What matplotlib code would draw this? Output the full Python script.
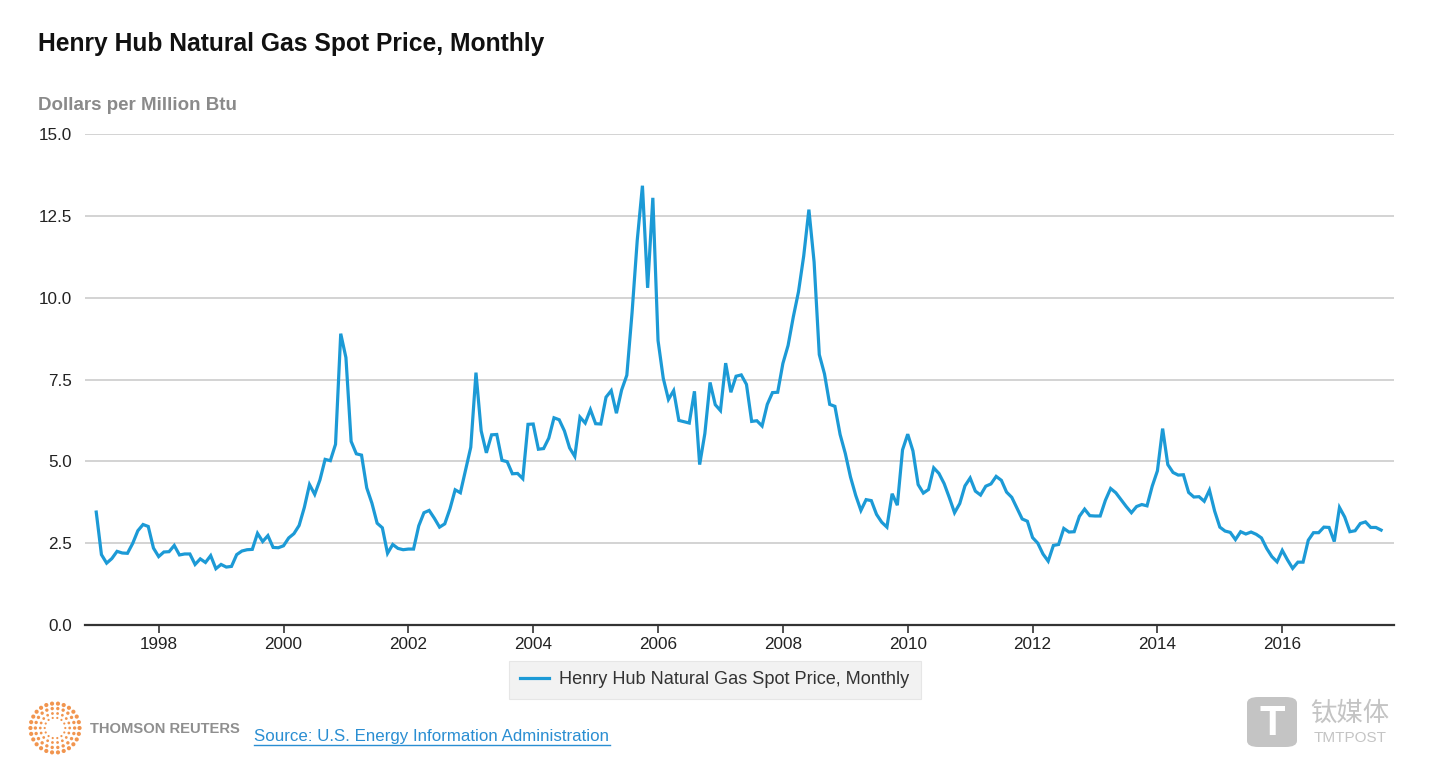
import numpy as np
import matplotlib
matplotlib.use("Agg")
import matplotlib.pyplot as plt
from matplotlib.patches import FancyBboxPatch

plt.rcParams['font.family'] = ['Liberation Sans', 'DejaVu Sans']

start_year = 1997
prices = [
    # 1997
    3.45, 2.15, 1.89, 2.03, 2.25, 2.20, 2.19, 2.49, 2.88, 3.07, 3.01, 2.35,
    # 1998
    2.09, 2.23, 2.24, 2.43, 2.14, 2.17, 2.17, 1.85, 2.02, 1.91, 2.12, 1.72,
    # 1999
    1.85, 1.77, 1.79, 2.15, 2.26, 2.30, 2.31, 2.80, 2.55, 2.73, 2.37, 2.36,
    # 2000
    2.42, 2.66, 2.79, 3.04, 3.59, 4.29, 3.99, 4.43, 5.06, 5.02, 5.52, 8.90,
    # 2001
    8.17, 5.61, 5.23, 5.19, 4.19, 3.72, 3.11, 2.97, 2.19, 2.46, 2.34, 2.30,
    # 2002
    2.32, 2.32, 3.03, 3.43, 3.50, 3.26, 2.99, 3.09, 3.55, 4.13, 4.04, 4.74,
    # 2003
    5.43, 7.71, 5.93, 5.26, 5.81, 5.82, 5.03, 4.99, 4.62, 4.63, 4.47, 6.13,
    # 2004
    6.14, 5.37, 5.39, 5.71, 6.33, 6.27, 5.93, 5.41, 5.15, 6.35, 6.17, 6.58,
    # 2005
    6.15, 6.14, 6.96, 7.16, 6.47, 7.18, 7.63, 9.53, 11.75, 13.42, 10.30, 13.05,
    # 2006
    8.69, 7.54, 6.89, 7.16, 6.25, 6.21, 6.17, 7.14, 4.90, 5.85, 7.41, 6.73,
    # 2007
    6.55, 8.00, 7.11, 7.60, 7.64, 7.35, 6.22, 6.24, 6.08, 6.74, 7.10, 7.11,
    # 2008
    7.99, 8.54, 9.41, 10.18, 11.27, 12.69, 11.09, 8.26, 7.67, 6.74, 6.68, 5.82,
    # 2009
    5.24, 4.52, 3.96, 3.50, 3.83, 3.80, 3.38, 3.14, 2.99, 4.01, 3.66, 5.35,
    # 2010
    5.83, 5.32, 4.29, 4.03, 4.14, 4.80, 4.63, 4.32, 3.89, 3.43, 3.71, 4.25,
    # 2011
    4.49, 4.09, 3.97, 4.24, 4.31, 4.54, 4.42, 4.06, 3.90, 3.57, 3.24, 3.17,
    # 2012
    2.67, 2.50, 2.17, 1.95, 2.43, 2.46, 2.95, 2.84, 2.85, 3.32, 3.54, 3.34,
    # 2013
    3.33, 3.33, 3.81, 4.17, 4.04, 3.83, 3.62, 3.43, 3.62, 3.68, 3.64, 4.24,
    # 2014
    4.71, 6.00, 4.90, 4.66, 4.58, 4.59, 4.05, 3.91, 3.92, 3.78, 4.12, 3.48,
    # 2015
    2.99, 2.87, 2.83, 2.61, 2.85, 2.78, 2.84, 2.77, 2.66, 2.34, 2.09, 1.93,
    # 2016
    2.28, 1.99, 1.73, 1.92, 1.92, 2.59, 2.82, 2.82, 2.99, 2.98, 2.55, 3.59,
    # 2017
    3.30, 2.85, 2.88, 3.10, 3.15, 2.98, 2.98, 2.90,
]
x_ticks = [1998, 2000, 2002, 2004, 2006, 2008, 2010, 2012, 2014, 2016]
y_ticks = [0.0, 2.5, 5.0, 7.5, 10.0, 12.5, 15.0]

title = "Henry Hub Natural Gas Spot Price, Monthly"
unit = "Dollars per Million Btu"
series_name = "Henry Hub Natural Gas Spot Price, Monthly"
source = "Source: U.S. Energy Information Administration"

W, H = 1439, 774
fig = plt.figure(figsize=(W / 100, H / 100), dpi=100)
fig.patch.set_facecolor("white")

def fx(px):
    return px / W

def fy(py):
    return 1 - py / H

ax = fig.add_axes([fx(85), fy(625), fx(1394) - fx(85), fy(134) - fy(625)])
t = start_year + np.arange(len(prices)) / 12.0
line_color = "#1c9ad6"
ax.plot(t, prices, color=line_color, lw=2.3, solid_joinstyle="miter",
        label=series_name, zorder=3)

ax.set_xlim(1996.82, 2017.79)
ax.set_ylim(0, 15)
ax.set_yticks(y_ticks)
ax.set_yticklabels([f"{v:.1f}" for v in y_ticks])
ax.set_xticks(x_ticks)
ax.set_xticklabels([str(v) for v in x_ticks])
for v in y_ticks[1:]:
    ax.axhline(v, color="#c8c8c8", lw=1.1, zorder=1)
for s in ["top", "right", "left"]:
    ax.spines[s].set_visible(False)
ax.spines["bottom"].set_color("#333333")
ax.spines["bottom"].set_linewidth(1.6)
ax.tick_params(axis="y", length=0, pad=9.5, labelsize=12.3, labelcolor="#222222")
ax.tick_params(axis="x", length=6, width=1.2, color="#333333", pad=2.5,
               labelsize=12.3, labelcolor="#222222")
ax.set_facecolor("white")

# Title & unit
fig.text(fx(38), fy(44), title, fontsize=17.7, fontweight="bold", color="#111111",
         ha="left", va="center")
fig.text(fx(38), fy(105), unit, fontsize=13.5, fontweight="bold", color="#8a8a8a",
         ha="left", va="center")

# Legend
leg = fig.legend(loc="center", bbox_to_anchor=(fx(715), fy(680)), frameon=True,
                 fontsize=13.1, handlelength=1.6, handletextpad=0.55,
                 borderpad=0.6, borderaxespad=0, fancybox=False)
leg.get_frame().set_facecolor("#efefef")
leg.get_frame().set_edgecolor("#e2e2e2")
leg.get_frame().set_linewidth(0.8)
for txt in leg.get_texts():
    txt.set_color("#333333")

# Thomson Reuters logo (dotted circle)
logo = fig.add_axes([fx(28), fy(755), fx(82) - fx(28), fy(701) - fy(755)])
logo.set_xlim(-1.1, 1.1)
logo.set_ylim(-1.1, 1.1)
logo.set_aspect("equal")
logo.axis("off")
for r, n, s in [(1.0, 26, 9), (0.8, 22, 6), (0.6, 18, 4), (0.42, 14, 2.5)]:
    ang = np.linspace(0, 2 * np.pi, n, endpoint=False)
    logo.scatter(r * np.cos(ang), r * np.sin(ang), s=s, color="#f08a3c",
                 edgecolors="none", alpha=0.9)
fig.text(fx(90), fy(729), "THOMSON REUTERS", fontsize=10.6, fontweight="bold",
         color="#8f8f8f", ha="left", va="center")

# Source link
fig.text(fx(254), fy(736), source, fontsize=12.2, color="#2a8ed2",
         ha="left", va="center")
fig.add_artist(plt.Line2D([fx(254), fx(610)], [fy(745), fy(745)],
                          color="#2a8ed2", lw=1.0))

# TMTPOST watermark
box = FancyBboxPatch((fx(1247), fy(747)), fx(50), fy(697) - fy(747),
                     boxstyle="round,pad=0,rounding_size=0.008",
                     transform=fig.transFigure, facecolor="#c4c4c4",
                     edgecolor="none")
fig.add_artist(box)
fig.text(fx(1272), fy(724), "T", fontsize=30, fontweight="bold", color="white",
         ha="center", va="center")
fig.text(fx(1350), fy(713), "钛媒体", fontsize=19, color="#c4c4c4",
         ha="center", va="center",
         family=["Noto Sans CJK SC", "DejaVu Sans"])
fig.text(fx(1350), fy(738), "TMTPOST", fontsize=11, color="#c4c4c4",
         ha="center", va="center")

fig.savefig("out.png", dpi=100, facecolor="white")
